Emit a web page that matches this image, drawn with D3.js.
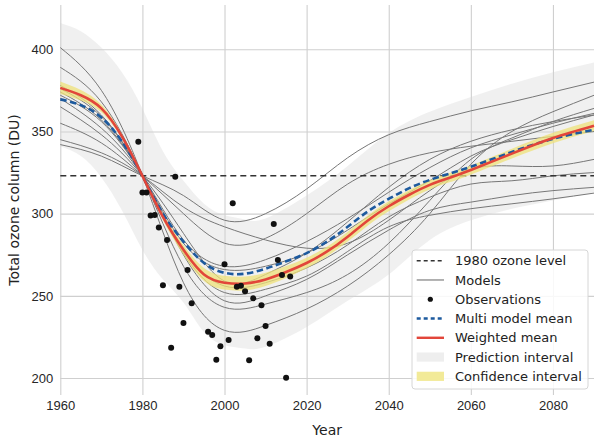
<!DOCTYPE html>
<html>
<head>
<meta charset="utf-8">
<script src="https://cdn.jsdelivr.net/npm/d3@7.9.0/dist/d3.min.js"></script>
<style>
  body { margin: 0; background: #fff; }
  svg { font-family: "DejaVu Sans", sans-serif; }
  .tick text { fill: #262626; font-size: 13px; }
</style>
</head>
<body>
<div id="chart"></div>
<script>
// ---- data ----
const modelYears = [1960, 1970, 1980, 1990, 2000, 2010, 2020, 2030, 2040, 2050, 2060, 2070, 2080, 2090];
const models = [
  [342, 335, 323, 311, 296, 300, 315, 334, 348, 356, 362.5, 368, 374, 380],
  [345, 337, 323, 304, 292, 284, 279, 282, 296, 314, 327, 329, 329, 333],
  [355, 343, 323, 300, 282, 285, 300, 318, 330, 337, 341, 344, 347, 350],
  [365, 348, 323, 288, 259, 263, 276, 295, 316, 333, 344, 351, 356, 360],
  [370, 352, 323, 284, 268, 272, 283, 297, 313, 328, 340, 348, 355, 361],
  [372, 356, 323, 282, 266, 268, 276, 290, 306, 320, 335, 345, 353, 360],
  [374, 357, 323, 278, 256, 258, 267, 281, 298, 310, 318, 320, 323, 325],
  [376, 359, 323, 276, 252, 254, 262, 277, 292, 299, 303, 306, 309, 312.5],
  [378, 360, 323, 275, 247, 250, 260, 275, 290, 302, 307, 311, 314, 316],
  [389, 368, 323, 268, 243, 245, 252, 263, 282, 308, 333, 346, 356, 364],
  [401, 375, 323, 258, 229, 232, 242, 256, 275, 300, 330, 350, 362, 372]
];

const meanYears = [1960, 1965, 1970, 1975, 1980, 1985, 1990, 1995, 2000, 2005, 2010, 2015, 2020,
                   2025, 2030, 2035, 2040, 2045, 2050, 2055, 2060, 2070, 2080, 2090];
const multiModelMean = [369.5, 366, 358.5, 344, 323, 300, 283, 270, 264, 263.5, 266.5, 271, 276,
                        283, 292, 301.5, 309, 315.5, 320.5, 324.5, 328.5, 337.5, 345.5, 351];
const weightedMean = [376.5, 372, 364, 347, 323, 298, 278, 263, 258, 257.5, 260, 264.5, 270,
                      277, 286, 296, 304.5, 311.5, 317.5, 322, 326.5, 336.5, 346, 353.5];
const confLower = [372.7, 368.8, 361.6, 345.7, 322.7, 296.2, 275, 259, 253.8, 253.3, 256, 260.9, 266.8,
                   274, 283, 293, 301.5, 308.6, 314.7, 319.2, 323.7, 333.5, 342.8, 350.2];
const confUpper = [380.3, 375.2, 366.4, 348.3, 323.3, 299.8, 281, 267, 262.2, 261.7, 264, 268.1, 273.2,
                   280, 289, 299, 307.5, 314.4, 320.3, 324.8, 329.3, 339.5, 349.2, 356.8];

const predYears = [1960, 1965, 1970, 1975, 1980, 1985, 1990, 1995, 2000, 2005, 2010, 2020,
                   2030, 2040, 2050, 2060, 2070, 2080, 2090];
const predUpper = [416, 411, 401, 386, 364, 338, 320, 306, 299, 296.5, 297, 311,
                   329, 349, 362, 371, 379, 386, 392];
const predLower = [341, 335, 322, 302, 278, 260, 246, 228, 220, 218, 219, 231,
                   247, 263, 284, 296, 303, 308, 313];

const obsYears = [1979, 1980, 1981, 1982, 1983, 1984, 1985, 1986, 1987, 1988, 1989, 1990, 1991, 1992,
                  1996, 1997, 1998, 1999, 2000, 2001, 2002, 2003, 2004, 2005, 2006, 2007, 2008, 2009,
                  2010, 2011, 2012, 2013, 2014, 2015, 2016];
const obsValues = [343.8, 312.8, 312.8, 298.8, 299.2, 291.5, 256.4, 284, 218.5, 322.5, 255.6, 233.5, 265.8, 245.5,
                   228.2, 226.2, 211.2, 219.3, 269.2, 223.2, 306.3, 255.6, 256.2, 252.8, 210.8, 248.5, 224.2, 244.3,
                   231.7, 220.9, 293.7, 271.8, 262.7, 200.2, 261.7];

const level1980 = 323;
const xTicks = [1960, 1980, 2000, 2020, 2040, 2060, 2080];
const yTicks = [200, 250, 300, 350, 400];

// ---- layout ----
const width = 600;
const height = 441;
const area = { left: 60.3, right: 594, top: 5, bottom: 395 };

const svg = d3.select('#chart')
  .append('svg')
  .attr('width', width)
  .attr('height', height);

const x = d3.scaleLinear().domain([1960, 2090]).range([area.left, area.right]);
const y = d3.scaleLinear().domain([189.7, 426.9]).range([area.bottom, area.top]);

// gridlines
svg.append('g')
  .attr('transform', `translate(0, ${area.bottom})`)
  .call(d3.axisBottom(x).tickValues(xTicks).tickFormat(d3.format('d'))
    .tickSize(-(area.bottom - area.top)).tickPadding(6))
  .call(g => g.select('.domain').remove())
  .call(g => g.selectAll('.tick line').attr('stroke', '#cfcfcf').attr('stroke-width', 1.1));

svg.append('g')
  .attr('transform', `translate(${area.left}, 0)`)
  .call(d3.axisLeft(y).tickValues(yTicks)
    .tickSize(-(area.right - area.left)).tickPadding(7))
  .call(g => g.select('.domain').remove())
  .call(g => g.selectAll('.tick line').attr('stroke', '#cfcfcf').attr('stroke-width', 1.1));

const plot = svg.append('g');

// prediction interval
const predArea = d3.area()
  .x((d, i) => x(predYears[i]))
  .y0((d, i) => y(predLower[i]))
  .y1((d, i) => y(predUpper[i]))
  .curve(d3.curveNatural);

plot.append('path')
  .datum(predYears)
  .attr('d', predArea)
  .attr('fill', '#d4d4d4')
  .attr('fill-opacity', 0.35);

// models
const modelLine = d3.line()
  .x((d, i) => x(modelYears[i]))
  .y(d => y(d))
  .curve(d3.curveNatural);

plot.append('g')
  .selectAll('path')
  .data(models)
  .join('path')
  .attr('d', modelLine)
  .attr('fill', 'none')
  .attr('stroke', '#777')
  .attr('stroke-width', 1);

// 1980 level
plot.append('line')
  .attr('x1', area.left).attr('x2', area.right)
  .attr('y1', y(level1980)).attr('y2', y(level1980))
  .attr('stroke', '#333')
  .attr('stroke-width', 1.5)
  .attr('stroke-dasharray', '6,4');

// confidence interval
const confArea = d3.area()
  .x((d, i) => x(meanYears[i]))
  .y0((d, i) => y(confLower[i]))
  .y1((d, i) => y(confUpper[i]))
  .curve(d3.curveNatural);

plot.append('path')
  .datum(meanYears)
  .attr('d', confArea)
  .attr('fill', '#efe27a')
  .attr('fill-opacity', 0.75);

const meanLine = d3.line()
  .x((d, i) => x(meanYears[i]))
  .y(d => y(d))
  .curve(d3.curveNatural);

plot.append('path')
  .datum(multiModelMean)
  .attr('d', meanLine)
  .attr('fill', 'none')
  .attr('stroke', '#1d5a9e')
  .attr('stroke-width', 2.6)
  .attr('stroke-dasharray', '6.5,3.5');

plot.append('path')
  .datum(weightedMean)
  .attr('d', meanLine)
  .attr('fill', 'none')
  .attr('stroke', '#e2463a')
  .attr('stroke-width', 2.6);

// observations
plot.append('g')
  .selectAll('circle')
  .data(obsYears)
  .join('circle')
  .attr('cx', d => x(d))
  .attr('cy', (d, i) => y(obsValues[i]))
  .attr('r', 3)
  .attr('fill', '#111');

// axis labels
svg.append('text')
  .attr('x', (area.left + area.right) / 2)
  .attr('y', 435)
  .attr('text-anchor', 'middle')
  .attr('fill', '#222')
  .style('font-size', '14px')
  .text('Year');

svg.append('text')
  .attr('transform', `translate(19, ${(area.top + area.bottom) / 2}) rotate(-90)`)
  .attr('text-anchor', 'middle')
  .attr('fill', '#222')
  .style('font-size', '14px')
  .text('Total ozone column (DU)');

// legend
const legendItems = [
  { label: '1980 ozone level', type: 'line', color: '#333', dash: '4,3', w: 1.5 },
  { label: 'Models', type: 'line', color: '#999', dash: null, w: 1.5 },
  { label: 'Observations', type: 'dot', color: '#111' },
  { label: 'Multi model mean', type: 'line', color: '#1d5a9e', dash: '4,3', w: 2.4 },
  { label: 'Weighted mean', type: 'line', color: '#e2463a', dash: null, w: 2.4 },
  { label: 'Prediction interval', type: 'rect', color: '#eeeeee' },
  { label: 'Confidence interval', type: 'rect', color: '#f2ea98' }
];

const legend = svg.append('g').attr('transform', 'translate(412, 250)');
legend.append('rect')
  .attr('width', 176).attr('height', 139)
  .attr('rx', 3)
  .attr('fill', '#fff').attr('fill-opacity', 0.85)
  .attr('stroke', '#d6d6d6');

const rows = legend.selectAll('g.row')
  .data(legendItems)
  .join('g')
  .attr('class', 'row')
  .attr('transform', (d, i) => `translate(0, ${10.7 + i * 19.27})`);

rows.filter(d => d.type === 'line')
  .append('line')
  .attr('x1', 4.7).attr('x2', 32)
  .attr('stroke', d => d.color)
  .attr('stroke-width', d => d.w)
  .attr('stroke-dasharray', d => d.dash);

rows.filter(d => d.type === 'dot')
  .append('circle')
  .attr('cx', 18.3).attr('r', 2.6)
  .attr('fill', d => d.color);

rows.filter(d => d.type === 'rect')
  .append('rect')
  .attr('x', 4.7).attr('y', -4.6)
  .attr('width', 27.3).attr('height', 9.2)
  .attr('fill', d => d.color);

rows.append('text')
  .attr('x', 43)
  .attr('dy', '0.36em')
  .attr('fill', '#222')
  .style('font-size', '13px')
  .text(d => d.label);
</script>
</body>
</html>
